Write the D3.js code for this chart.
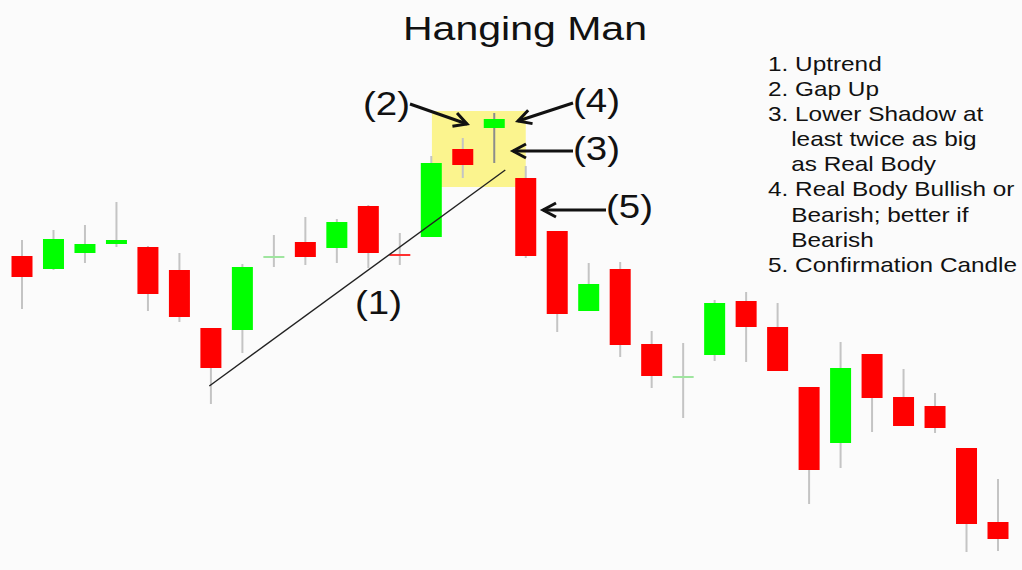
<!DOCTYPE html>
<html>
<head>
<meta charset="utf-8">
<script src="https://cdn.jsdelivr.net/npm/d3@7"></script>
<style>
  html, body { margin: 0; padding: 0; background: #fbfbfb; }
  svg { display: block; font-family: "Liberation Sans", Arial, sans-serif; }
</style>
</head>
<body>
<svg id="chart" width="1022" height="570"></svg>
<script>
// candle data (arbitrary price units)
const opens  = [168.8,166.2,169.4,171.2,170.6,166.0,154.4,154.0,168.6,171.6,170.4,178.8,169.2,172.6,190.2,194.4,184.4,173.8,157.8,166.2,151.2,144.6,149.0,159.8,154.6,142.6,131.4,149.2,140.6,138.8,130.4,115.6];
const highs  = [172.0,174.0,175.0,179.6,170.8,169.4,154.4,167.2,173.0,176.6,176.2,179.0,173.4,188.8,192.4,197.4,186.8,173.8,167.4,167.6,153.8,151.4,160.0,161.6,159.4,142.6,151.6,149.2,146.2,141.4,130.4,124.2];
const lows   = [158.2,166.0,167.4,170.6,157.8,155.6,139.2,149.4,166.6,167.0,167.4,166.4,167.0,172.6,184.4,187.4,168.4,153.6,157.8,148.6,142.4,136.4,147.8,147.6,145.8,119.2,126.4,133.6,134.8,133.4,109.6,109.8];
const closes = [164.6,172.2,171.2,172.0,161.2,156.6,146.4,166.6,168.8,168.6,175.6,169.4,168.8,187.4,187.0,196.2,168.8,157.2,163.2,151.0,144.8,144.8,159.4,154.6,145.8,126.0,146.4,140.4,134.8,134.4,115.2,112.2];

// annotation anchors in data units (candle index, price)
const trendLine = [{i: 5.95, p: 142.8}, {i: 15.35, p: 186.0}];
const highlight = {i0: 13.02, i1: 16.0, p0: 182.6, p1: 197.8};

const title = "Hanging Man";
const legendLines = [
  {t: "1. Uptrend", indent: false},
  {t: "2. Gap Up", indent: false},
  {t: "3. Lower Shadow at", indent: false},
  {t: "least twice as big", indent: true},
  {t: "as Real Body", indent: true},
  {t: "4. Real Body Bullish or", indent: false},
  {t: "Bearish; better if", indent: true},
  {t: "Bearish", indent: true},
  {t: "5. Confirmation Candle", indent: false}
];

const candles = opens.map((o, i) => ({i, o, h: highs[i], l: lows[i], c: closes[i]}));

const svg = d3.select("#chart");
const x = d3.scaleLinear().domain([0, opens.length - 1]).range([22, 998]);
const y = d3.scaleLinear().domain([100, 220]).range([600, 0]);
const bodyW = 21;

// yellow highlight behind the hanging man
svg.append("rect")
  .attr("x", x(highlight.i0)).attr("y", y(highlight.p1))
  .attr("width", x(highlight.i1) - x(highlight.i0))
  .attr("height", y(highlight.p0) - y(highlight.p1))
  .attr("fill", "#fbf48e");

const g = svg.append("g");
const isDoji = d => Math.abs(d.o - d.c) < 0.5;

g.selectAll("line.wick").data(candles).enter().append("line")
  .attr("class", "wick")
  .attr("x1", d => x(d.i)).attr("x2", d => x(d.i))
  .attr("y1", d => y(d.h)).attr("y2", d => y(d.l))
  .attr("stroke", d => d.i === 15 ? "#8c8c8c" : "#c4c4c4")
  .attr("stroke-width", 2);

g.selectAll("rect.body").data(candles).enter().append("rect")
  .attr("class", "body")
  .attr("x", d => x(d.i) - bodyW / 2)
  .attr("y", d => y(Math.max(d.o, d.c)))
  .attr("width", bodyW)
  .attr("height", d => Math.max(2, Math.abs(y(d.o) - y(d.c))))
  .attr("fill", d => {
    const up = d.c >= d.o;
    if (isDoji(d)) return up ? "#9fe59f" : "#ff3030";
    return up ? "#00ff00" : "#ff0000";
  });

// uptrend line
svg.append("path")
  .datum(trendLine)
  .attr("d", d3.line().x(d => x(d.i)).y(d => y(d.p)))
  .attr("stroke", "#222").attr("stroke-width", 1.4).attr("fill", "none");

// arrows
const defs = svg.append("defs");
defs.append("marker")
  .attr("id", "head").attr("viewBox", "-16 -10 20 20")
  .attr("refX", 0).attr("refY", 0)
  .attr("markerWidth", 20).attr("markerHeight", 20)
  .attr("markerUnits", "userSpaceOnUse").attr("orient", "auto")
  .append("path")
  .attr("d", "M-13,-7 L0,0 L-13,7")
  .attr("fill", "none").attr("stroke", "#111").attr("stroke-width", 3);

const arrows = [
  [410, 104, 467, 124],
  [573, 103, 518, 121],
  [573, 151, 513, 151],
  [606, 210, 543, 210]
];
svg.selectAll("line.arrow").data(arrows).enter().append("line")
  .attr("class", "arrow")
  .attr("x1", d => d[0]).attr("y1", d => d[1])
  .attr("x2", d => d[2]).attr("y2", d => d[3])
  .attr("stroke", "#111").attr("stroke-width", 3)
  .attr("marker-end", "url(#head)");

// (n) labels
const labels = [
  ["(1)", 355, 314],
  ["(2)", 363, 115],
  ["(4)", 573, 112],
  ["(3)", 573, 160],
  ["(5)", 606, 218]
];
svg.selectAll("text.lab").data(labels).enter().append("text")
  .attr("class", "lab")
  .attr("x", d => d[1]).attr("y", d => d[2])
  .attr("font-size", 33).attr("fill", "#111")
  .attr("textLength", 47).attr("lengthAdjust", "spacingAndGlyphs")
  .text(d => d[0]);

// title
svg.append("text")
  .attr("x", 403).attr("y", 40)
  .attr("font-size", 33).attr("fill", "#111")
  .attr("textLength", 244).attr("lengthAdjust", "spacingAndGlyphs")
  .text(title);

// legend
const leg = svg.append("g").attr("transform", "translate(768,0) scale(1.16,1)");
leg.selectAll("text").data(legendLines).enter().append("text")
  .attr("x", d => d.indent ? 20 : 0)
  .attr("y", (d, i) => 71 + i * 25.1)
  .attr("font-size", 21).attr("fill", "#111")
  .text(d => d.t);
</script>
</body>
</html>
